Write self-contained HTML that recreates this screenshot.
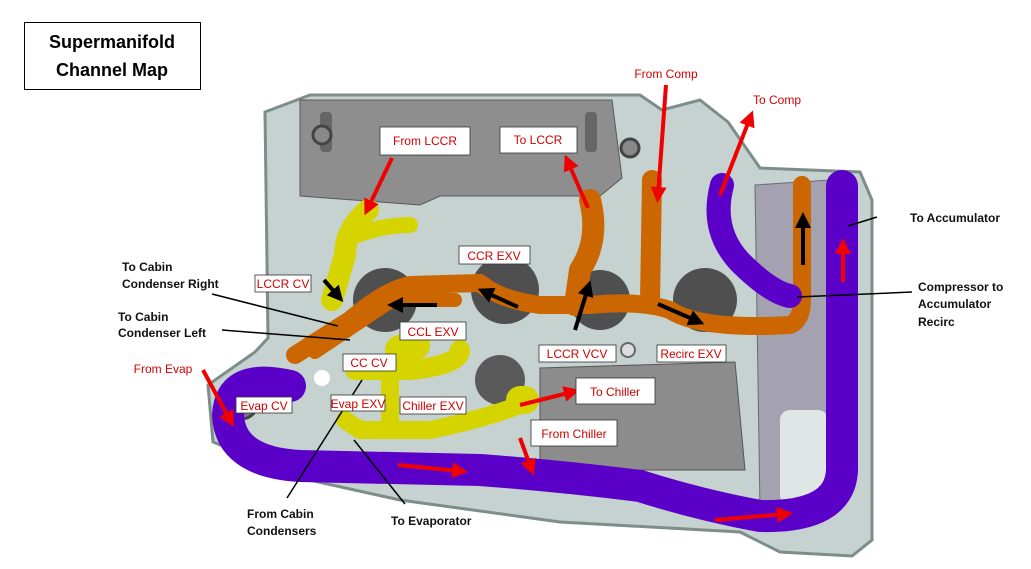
<!DOCTYPE html>
<html><head><meta charset="utf-8"><style>
html,body{margin:0;padding:0;background:#fff;}
svg{display:block;}
.t{font-family:"Liberation Sans",sans-serif;}
.b{font-family:"Liberation Sans",sans-serif;font-weight:bold;font-size:12px;fill:#111;}
.r{font-family:"Liberation Sans",sans-serif;font-size:12px;fill:#d00000;}
</style></head><body>
<svg width="1031" height="569" viewBox="0 0 1031 569" xmlns="http://www.w3.org/2000/svg">
<defs>
<marker id="ra" markerWidth="4" markerHeight="4" refX="2" refY="2" orient="auto" markerUnits="strokeWidth"><path d="M0,0 L4,2 L0,4 Z" fill="#f00000"/></marker>
<marker id="ka" markerWidth="4" markerHeight="4" refX="2" refY="2" orient="auto" markerUnits="strokeWidth"><path d="M0,0 L4,2 L0,4 Z" fill="#000"/></marker>
</defs>
<rect x="24.5" y="22.5" width="176" height="67" fill="#fff" stroke="#000" stroke-width="1"/>
<text x="112" y="48" text-anchor="middle" class="t" font-weight="bold" font-size="18">Supermanifold</text>
<text x="112" y="76" text-anchor="middle" class="t" font-weight="bold" font-size="18">Channel Map</text>

<!-- body -->
<path d="M265 112 L310 95 L640 95 L662 110 L700 100 L728 122 L760 168 L860 172 L872 200 L872 540 L852 556 L780 552 L740 532 L560 522 L400 500 L300 478 L213 442 L208 385 L255 352 L268 338 Z" fill="#c5d2cf" stroke="#7d8e8a" stroke-width="3"/>
<path d="M300 100 L612 100 L622 178 L600 196 L440 196 L420 205 L300 196 Z" fill="#8e8e8e" stroke="#5a5a5a"/>
<rect x="320" y="112" width="12" height="40" rx="4" fill="#666"/>
<rect x="585" y="112" width="12" height="40" rx="4" fill="#666"/>
<path d="M540 368 L735 362 L745 470 L540 470 Z" fill="#8c8c8c" stroke="#555"/>
<path d="M755 185 L830 180 L835 515 L760 510 Z" fill="#a4a2b0" stroke="#6a6878"/>
<rect x="780" y="410" width="48" height="95" rx="10" fill="#dfe6e6"/>
<circle cx="385" cy="300" r="32" fill="#4f4f4f"/>
<circle cx="505" cy="290" r="34" fill="#4f4f4f"/>
<circle cx="600" cy="300" r="30" fill="#4f4f4f"/>
<circle cx="705" cy="300" r="32" fill="#4f4f4f"/>
<circle cx="500" cy="380" r="25" fill="#5a5a5a"/>
<circle cx="322" cy="135" r="9" fill="#888" stroke="#444" stroke-width="3"/>
<circle cx="630" cy="148" r="9" fill="#888" stroke="#444" stroke-width="3"/>
<circle cx="628" cy="350" r="7" fill="#ddd" stroke="#666" stroke-width="2"/>
<circle cx="322" cy="378" r="8" fill="#fff"/>
<circle cx="241" cy="402" r="17" fill="#7a7690" stroke="#444" stroke-width="3"/>

<!-- yellow -->
<g fill="none" stroke="#d6d400" stroke-linecap="round" stroke-linejoin="round">
<path d="M368 210 Q345 230 345 255 Q335 290 332 300" stroke-width="22"/>
<path d="M350 238 Q380 225 410 225" stroke-width="16"/>
<path d="M355 370 L410 370 Q460 365 460 350" stroke-width="20"/>
<path d="M400 350 L415 345" stroke-width="30"/>
<path d="M345 420 L360 430 L430 430 Q480 420 520 405" stroke-width="18"/>
<path d="M390 380 L390 430" stroke-width="18"/>
<path d="M520 400 L525 400" stroke-width="28"/>
</g>
<!-- orange -->
<g fill="none" stroke="#cc6600" stroke-linecap="round" stroke-linejoin="round">
<path d="M295 355 L350 320 Q385 290 410 285 L480 283 Q500 300 540 305 L590 305 Q640 300 670 310 Q700 330 790 325 Q802 320 802 300 L802 185" stroke-width="18"/>
<path d="M315 352 L385 305 Q400 295 420 300 L455 300" stroke-width="14"/>
<path d="M590 200 Q600 240 580 270 L575 305" stroke-width="22"/>
<path d="M652 180 L650 300" stroke-width="20"/>
</g>
<!-- purple -->
<g fill="none" stroke="#5b00c8" stroke-linecap="round" stroke-linejoin="round">
<path d="M290 386 Q230 372 228 415 Q230 462 300 466 L480 470 Q560 476 640 486 Q700 505 760 516 Q840 518 842 470 L842 186" stroke-width="32"/>
<path d="M722 185 Q710 230 740 262 Q770 292 790 296" stroke-width="24"/>
</g>

<!-- red arrows -->
<g stroke="#f00000" stroke-width="4" fill="none" marker-end="url(#ra)">
<line x1="203" y1="370" x2="230" y2="420"/>
<line x1="392" y1="158" x2="368" y2="208"/>
<line x1="588" y1="208" x2="568" y2="162"/>
<line x1="666" y1="85" x2="658" y2="195"/>
<line x1="720" y1="195" x2="750" y2="118"/>
<line x1="398" y1="465" x2="460" y2="471"/>
<line x1="520" y1="438" x2="531" y2="468"/>
<line x1="715" y1="520" x2="785" y2="514"/>
<line x1="843" y1="282" x2="843" y2="246"/>
<line x1="520" y1="405" x2="572" y2="392"/>
</g>
<!-- black arrows -->
<g stroke="#000" stroke-width="4" fill="none" marker-end="url(#ka)">
<line x1="324" y1="280" x2="338" y2="296"/>
<line x1="437" y1="305" x2="395" y2="305"/>
<line x1="518" y1="307" x2="485" y2="292"/>
<line x1="575" y1="330" x2="588" y2="288"/>
<line x1="658" y1="304" x2="697" y2="321"/>
<line x1="803" y1="265" x2="803" y2="220"/>
</g>
<!-- leader lines -->
<g stroke="#000" stroke-width="1.5">
<line x1="212" y1="294" x2="338" y2="326"/>
<line x1="222" y1="330" x2="350" y2="340"/>
<line x1="287" y1="498" x2="362" y2="380"/>
<line x1="405" y1="504" x2="354" y2="440"/>
<line x1="877" y1="217" x2="848" y2="226"/>
<line x1="912" y1="292" x2="797" y2="297"/>
</g>

<!-- label boxes -->
<g fill="#fff" stroke="#333" stroke-width="0.8">
<rect x="380" y="127" width="90" height="28"/>
<rect x="500" y="127" width="77" height="26"/>
<rect x="459" y="246" width="71" height="18"/>
<rect x="255" y="275" width="56" height="17"/>
<rect x="400" y="322" width="66" height="18"/>
<rect x="343" y="354" width="53" height="17"/>
<rect x="539" y="345" width="77" height="17"/>
<rect x="657" y="345" width="69" height="17"/>
<rect x="236" y="397" width="56" height="16"/>
<rect x="331" y="395" width="54" height="16"/>
<rect x="400" y="397" width="66" height="17"/>
<rect x="576" y="378" width="79" height="26"/>
<rect x="531" y="420" width="86" height="26"/>
</g>
<g class="r" text-anchor="middle">
<text x="425" y="145">From LCCR</text>
<text x="538" y="144">To LCCR</text>
<text x="494" y="260">CCR EXV</text>
<text x="283" y="288">LCCR CV</text>
<text x="433" y="336">CCL EXV</text>
<text x="369" y="367">CC CV</text>
<text x="577" y="358">LCCR VCV</text>
<text x="691" y="358">Recirc EXV</text>
<text x="264" y="410">Evap CV</text>
<text x="358" y="408">Evap EXV</text>
<text x="433" y="410">Chiller EXV</text>
<text x="615" y="396">To Chiller</text>
<text x="574" y="438">From Chiller</text>
<text x="666" y="78">From Comp</text>
<text x="777" y="104">To Comp</text>
<text x="163" y="373">From Evap</text>
</g>
<g class="b">
<text x="910" y="222">To Accumulator</text>
<text x="918" y="291">Compressor to</text>
<text x="918" y="308">Accumulator</text>
<text x="918" y="326">Recirc</text>
<text x="122" y="271">To Cabin</text>
<text x="122" y="288">Condenser Right</text>
<text x="118" y="321">To Cabin</text>
<text x="118" y="337">Condenser Left</text>
<text x="247" y="518">From Cabin</text>
<text x="247" y="535">Condensers</text>
<text x="391" y="525">To Evaporator</text>
</g>
</svg>
</body></html>
